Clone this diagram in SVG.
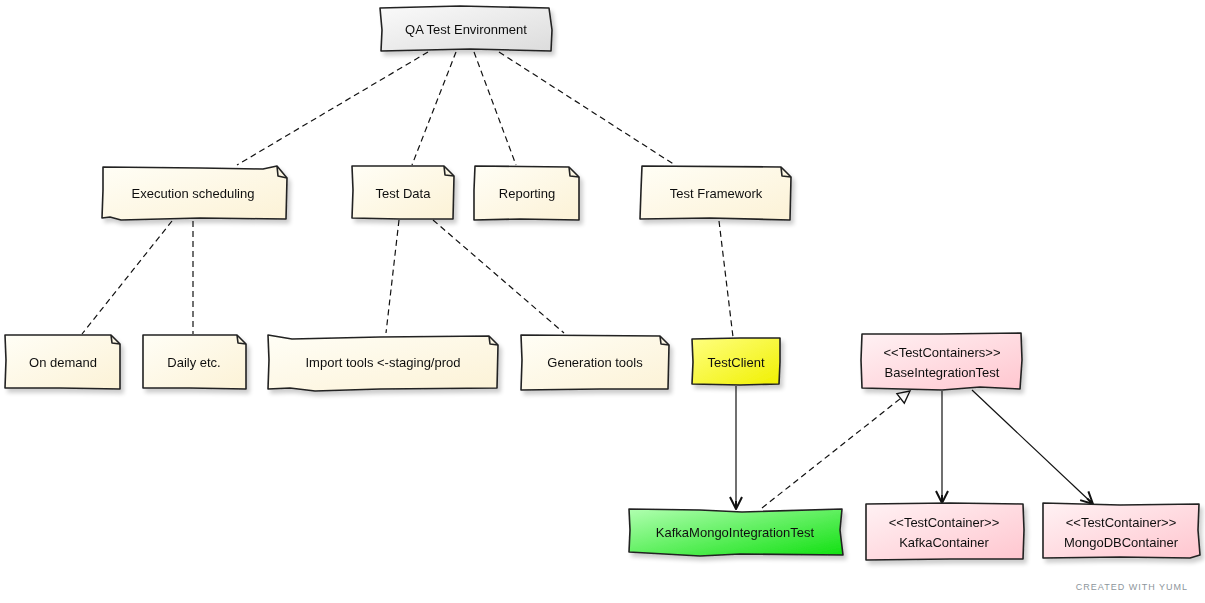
<svg xmlns="http://www.w3.org/2000/svg" width="1205" height="603" viewBox="0 0 1205 603">
<style>
text{font-family:"Liberation Sans",Arial,sans-serif;font-size:13px;fill:#111;text-anchor:middle;dominant-baseline:central}
.box{stroke:#222;stroke-width:1.6;stroke-linejoin:round}
.edge{fill:none;stroke:#111;stroke-width:1.2}
.dash{stroke-dasharray:6,4}
.foot{font-size:9px;fill:#8d969c;letter-spacing:1px;text-anchor:end}
</style>
<defs>
<linearGradient id="gNote" x1="0" y1="0" x2="1" y2="1"><stop offset="0" stop-color="#fffef6"/><stop offset="1" stop-color="#fcf2d6"/></linearGradient>
<linearGradient id="gGrey" x1="0" y1="0" x2="1" y2="1"><stop offset="0" stop-color="#fafafa"/><stop offset="1" stop-color="#dcdcdc"/></linearGradient>
<linearGradient id="gYellow" x1="0" y1="0" x2="1" y2="1"><stop offset="0" stop-color="#ffff80"/><stop offset="1" stop-color="#f0f000"/></linearGradient>
<linearGradient id="gGreen" x1="0" y1="0" x2="1" y2="1"><stop offset="0" stop-color="#b0ffb0"/><stop offset="1" stop-color="#10e010"/></linearGradient>
<linearGradient id="gPink" x1="0" y1="0" x2="1" y2="1"><stop offset="0" stop-color="#fff2f4"/><stop offset="1" stop-color="#ffc6cf"/></linearGradient>
<filter id="sh" x="-10%" y="-10%" width="125%" height="140%"><feGaussianBlur in="SourceAlpha" stdDeviation="2"/><feOffset dx="3" dy="4"/><feComponentTransfer><feFuncA type="linear" slope="0.2"/></feComponentTransfer><feMerge><feMergeNode/><feMergeNode in="SourceGraphic"/></feMerge></filter>
<marker id="vee" viewBox="0 0 16 16" refX="14" refY="8" markerWidth="16" markerHeight="16" markerUnits="userSpaceOnUse" orient="auto"><path d="M2,2 L14,8 L2,14 M14,8 L6,8" fill="none" stroke="#111" stroke-width="2" stroke-linejoin="round"/></marker>
<marker id="tri" viewBox="0 0 16 16" refX="14" refY="8" markerWidth="16" markerHeight="16" markerUnits="userSpaceOnUse" orient="auto"><path d="M2,2 L14,8 L2,14 Z" fill="#fff" stroke="#111" stroke-width="1.3"/></marker>
</defs>

<g id="connectors">
<path class="edge dash" d="M428,52 L237,165"/>
<path class="edge dash" d="M456,52 L412,165"/>
<path class="edge dash" d="M474,52 L516,165"/>
<path class="edge dash" d="M499,52 L675,165"/>
<path class="edge dash" d="M172,221 L82,334"/>
<path class="edge dash" d="M193,221 L193,334"/>
<path class="edge dash" d="M399,220 L386,333"/>
<path class="edge dash" d="M433,220 L564,333"/>
<path class="edge dash" d="M719,221 L733,337"/>
<path class="edge" d="M736,386 L736,509" marker-end="url(#vee)"/>
<path class="edge dash" d="M762,508 L910,391" marker-end="url(#tri)"/>
<path class="edge" d="M942,391 L942,503" marker-end="url(#vee)"/>
<path class="edge" d="M972,390 L1093,504" marker-end="url(#vee)"/>
</g>

<g id="qa-test-environment" filter="url(#sh)">
<path class="box" fill="url(#gGrey)" d="M380,8 L460,6 L549,8 L552,30 L551,51 L470,49 L381,51 L382,30 Z"/>
<text x="466" y="29">QA Test Environment</text>
</g>

<g id="execution-scheduling" filter="url(#sh)">
<path class="box" fill="url(#gNote)" d="M103,167 L200,168 L263,169 L277,166 L287,178 L286,219 L200,218 L121,220 L110,217 L102,218 L103,190 Z"/>
<path class="box" fill="none" d="M277,166 L278,176 L287,178"/>
<text x="193" y="193">Execution scheduling</text>
</g>

<g id="test-data" filter="url(#sh)">
<path class="box" fill="url(#gNote)" d="M352,166 L444,166 L454,176 L453,219 L400,219 L352,218 L353,190 Z"/>
<path class="box" fill="none" d="M444,166 L445,175 L454,176"/>
<text x="403" y="193">Test Data</text>
</g>

<g id="reporting" filter="url(#sh)">
<path class="box" fill="url(#gNote)" d="M475,166 L569,167 L579,177 L579,220 L520,219 L474,220 L474,190 Z"/>
<path class="box" fill="none" d="M569,167 L570,176 L579,177"/>
<text x="527" y="193">Reporting</text>
</g>

<g id="test-framework" filter="url(#sh)">
<path class="box" fill="url(#gNote)" d="M642,166 L781,167 L791,177 L790,220 L710,218 L640,219 L641,190 Z"/>
<path class="box" fill="none" d="M781,167 L782,176 L791,177"/>
<text x="716" y="193">Test Framework</text>
</g>

<g id="on-demand" filter="url(#sh)">
<path class="box" fill="url(#gNote)" d="M5,335 L111,335 L120,344 L120,389 L60,388 L5,388 L6,360 Z"/>
<path class="box" fill="none" d="M111,335 L112,343 L120,344"/>
<text x="63" y="362">On demand</text>
</g>

<g id="daily-etc" filter="url(#sh)">
<path class="box" fill="url(#gNote)" d="M143,335 L237,335 L246,344 L246,389 L190,388 L143,388 L143,360 Z"/>
<path class="box" fill="none" d="M237,335 L238,343 L246,344"/>
<text x="194" y="362">Daily etc.</text>
</g>

<g id="import-tools" filter="url(#sh)">
<path class="box" fill="url(#gNote)" d="M268,335 L292,339 L380,337 L489,336 L498,345 L497,388 L380,389 L315,391 L290,388 L268,389 L269,360 Z"/>
<path class="box" fill="none" d="M489,336 L490,344 L498,345"/>
<text x="383" y="362">Import tools &lt;-staging/prod</text>
</g>

<g id="generation-tools" filter="url(#sh)">
<path class="box" fill="url(#gNote)" d="M521,335 L660,336 L669,345 L668,389 L600,389 L521,390 L522,360 Z"/>
<path class="box" fill="none" d="M660,336 L661,344 L669,345"/>
<text x="595" y="362">Generation tools</text>
</g>

<g id="test-client" filter="url(#sh)">
<path class="box" fill="url(#gYellow)" d="M692,339 L740,338 L780,338 L780,362 L779,384 L740,385 L692,384 L693,362 Z"/>
<text x="736" y="362">TestClient</text>
</g>

<g id="base-integration-test" filter="url(#sh)">
<path class="box" fill="url(#gPink)" d="M862,334 L940,334 L1021,333 L1022,360 L1020,389 L980,387 L942,390 L862,388 L861,360 Z"/>
<text x="942" y="352">&lt;&lt;TestContainers&gt;&gt;</text>
<text x="942" y="372">BaseIntegrationTest</text>
</g>

<g id="kafka-mongo-integration-test" filter="url(#sh)">
<path class="box" fill="url(#gGreen)" d="M629,509 L700,510 L742,512 L842,509 L840,530 L843,555 L740,554 L700,556 L629,552 L630,530 Z"/>
<text x="735" y="532">KafkaMongoIntegrationTest</text>
</g>

<g id="kafka-container" filter="url(#sh)">
<path class="box" fill="url(#gPink)" d="M866,504 L950,503 L1023,504 L1024,530 L1023,559 L950,559 L866,560 L866,530 Z"/>
<text x="944" y="522">&lt;&lt;TestContainer&gt;&gt;</text>
<text x="944" y="542">KafkaContainer</text>
</g>

<g id="mongodb-container" filter="url(#sh)">
<path class="box" fill="url(#gPink)" d="M1043,503 L1120,505 L1199,504 L1198,530 L1200,555 L1190,558 L1120,557 L1043,558 L1043,530 Z"/>
<text x="1121" y="522">&lt;&lt;TestContainer&gt;&gt;</text>
<text x="1121" y="542">MongoDBContainer</text>
</g>

<text class="foot" x="1188" y="587">CREATED WITH YUML</text>
</svg>
